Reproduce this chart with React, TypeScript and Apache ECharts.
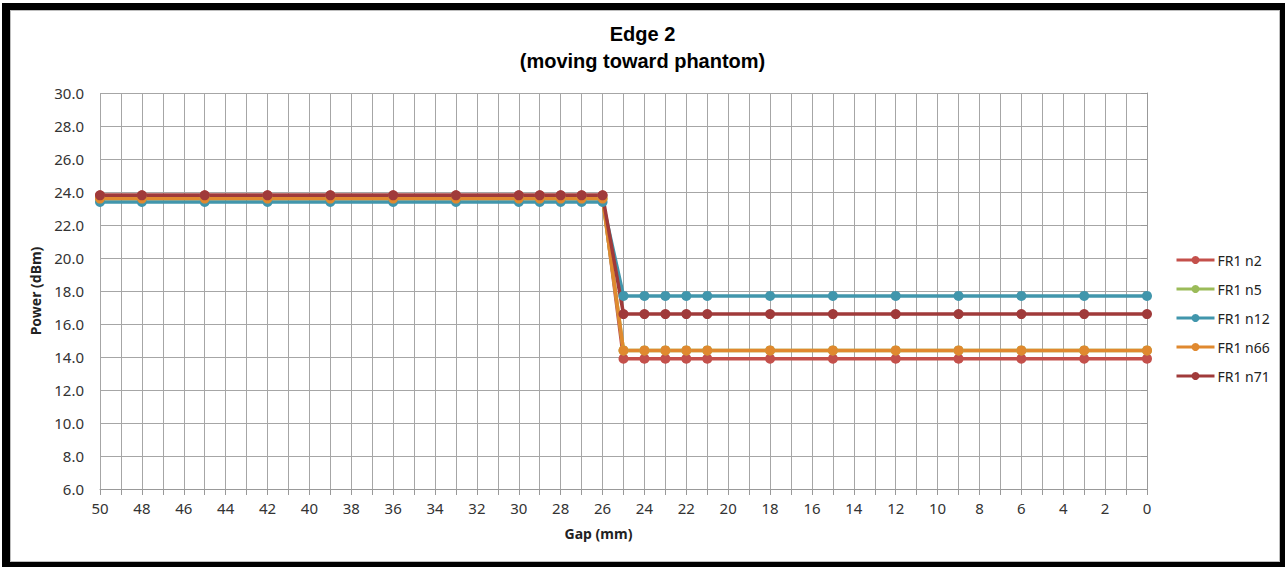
import React, { useEffect, useRef } from "react";
import * as echarts from "echarts";

const gapMm = [50, 48, 45, 42, 39, 36, 33, 30, 29, 28, 27, 26, 25, 24, 23, 22, 21, 18, 15, 12, 9, 6, 3, 0];
const seriesNames = ["FR1 n2", "FR1 n5", "FR1 n12", "FR1 n66", "FR1 n71"];
const n2 = [23.8, 23.8, 23.8, 23.8, 23.8, 23.8, 23.8, 23.8, 23.8, 23.8, 23.8, 23.8, 13.9, 13.9, 13.9, 13.9, 13.9, 13.9, 13.9, 13.9, 13.9, 13.9, 13.9, 13.9];
const n5 = [23.6, 23.6, 23.6, 23.6, 23.6, 23.6, 23.6, 23.6, 23.6, 23.6, 23.6, 23.6, 14.4, 14.4, 14.4, 14.4, 14.4, 14.4, 14.4, 14.4, 14.4, 14.4, 14.4, 14.4];
const n12 = [23.4, 23.4, 23.4, 23.4, 23.4, 23.4, 23.4, 23.4, 23.4, 23.4, 23.4, 23.4, 17.7, 17.7, 17.7, 17.7, 17.7, 17.7, 17.7, 17.7, 17.7, 17.7, 17.7, 17.7];
const n66 = [23.6, 23.6, 23.6, 23.6, 23.6, 23.6, 23.6, 23.6, 23.6, 23.6, 23.6, 23.6, 14.4, 14.4, 14.4, 14.4, 14.4, 14.4, 14.4, 14.4, 14.4, 14.4, 14.4, 14.4];
const n71 = [23.8, 23.8, 23.8, 23.8, 23.8, 23.8, 23.8, 23.8, 23.8, 23.8, 23.8, 23.8, 16.6, 16.6, 16.6, 16.6, 16.6, 16.6, 16.6, 16.6, 16.6, 16.6, 16.6, 16.6];
const seriesValues = [n2, n5, n12, n66, n71];
const seriesColors = ["#C4504B", "#9BBB59", "#4196AC", "#E0892F", "#A03A3A"];

export default function App() {
  const ref = useRef<HTMLDivElement>(null);
  useEffect(() => {
    if (!ref.current) return;
    const chart = echarts.init(ref.current, null, { renderer: "svg" });
    const font = "'Noto Sans', sans-serif";
    chart.setOption({
      animation: false,
      backgroundColor: "#fff",
      title: [
        {
          text: "Edge 2\n(moving toward phantom)",
          left: "center",
          top: 15,
          textStyle: {
            fontFamily: "'Liberation Sans', Arial, sans-serif",
            fontWeight: "bold",
            fontSize: 20,
            lineHeight: 27,
            color: "#000",
          },
        },
      ],
      grid: { left: 100, right: 138, top: 93, bottom: 78, containLabel: false },
      legend: {
        orient: "vertical",
        left: 1170,
        top: 248,
        itemWidth: 38,
        itemHeight: 10,
        itemGap: 15,
        data: seriesNames,
        lineStyle: { width: 3 },
        textStyle: { fontFamily: font, fontSize: 14, color: "#222", padding: [0, 0, 0, -2] },
      },
      xAxis: {
        type: "value",
        inverse: true,
        min: 0,
        max: 50,
        interval: 1,
        name: "Gap (mm)",
        nameLocation: "middle",
        nameGap: 37,
        nameTextStyle: { fontFamily: font, fontWeight: "bold", fontSize: 14, color: "#222", padding: [0, 50, 0, 0] },
        axisLine: { show: true, lineStyle: { color: "#999", width: 1 } },
        axisTick: { show: true, length: 6, lineStyle: { color: "#999" } },
        splitLine: { show: true, lineStyle: { color: "#a6a6a6", width: 1 } },
        axisLabel: {
          fontFamily: font,
          fontSize: 15,
          color: "#333",
          margin: 11,
          formatter: (v: number) => (v % 2 === 0 ? String(v) : ""),
        },
      },
      yAxis: {
        type: "value",
        min: 6,
        max: 30,
        interval: 2,
        name: "Power (dBm)",
        nameLocation: "middle",
        nameGap: 58,
        nameTextStyle: { fontFamily: font, fontWeight: "bold", fontSize: 14, color: "#222" },
        axisLine: { show: true, lineStyle: { color: "#999", width: 1 } },
        axisTick: { show: true, length: 6, lineStyle: { color: "#999" } },
        splitLine: { show: true, lineStyle: { color: "#a6a6a6", width: 1 } },
        axisLabel: {
          fontFamily: font,
          fontSize: 15,
          color: "#333",
          margin: 16,
          formatter: (v: number) => v.toFixed(1),
        },
      },
      series: seriesNames.map((name, i) => ({
        name,
        type: "line",
        data: gapMm.map((g, j) => [g, seriesValues[i][j]]),
        color: seriesColors[i],
        symbol: "circle",
        symbolSize: 10,
        lineStyle: { width: 3.5, color: seriesColors[i] },
        itemStyle: { color: seriesColors[i] },
      })),
    });
    return () => chart.dispose();
  }, []);
  return (
    <div style={{ position: "fixed", left: 0, top: 0, width: 1285, height: 567, background: "#fff" }}>
      <div ref={ref} style={{ position: "absolute", left: 0, top: 0, width: 1285, height: 567 }} />
      <div
        style={{
          position: "absolute",
          left: 2,
          top: 3,
          width: 1283,
          height: 564,
          boxSizing: "border-box",
          borderStyle: "solid",
          borderColor: "#000",
          borderWidth: "7px 5px 5px 8px",
          pointerEvents: "none",
        }}
      >
        <div style={{ position: "absolute", inset: 0, border: "1px solid #bdbdbd" }} />
      </div>
    </div>
  );
}
